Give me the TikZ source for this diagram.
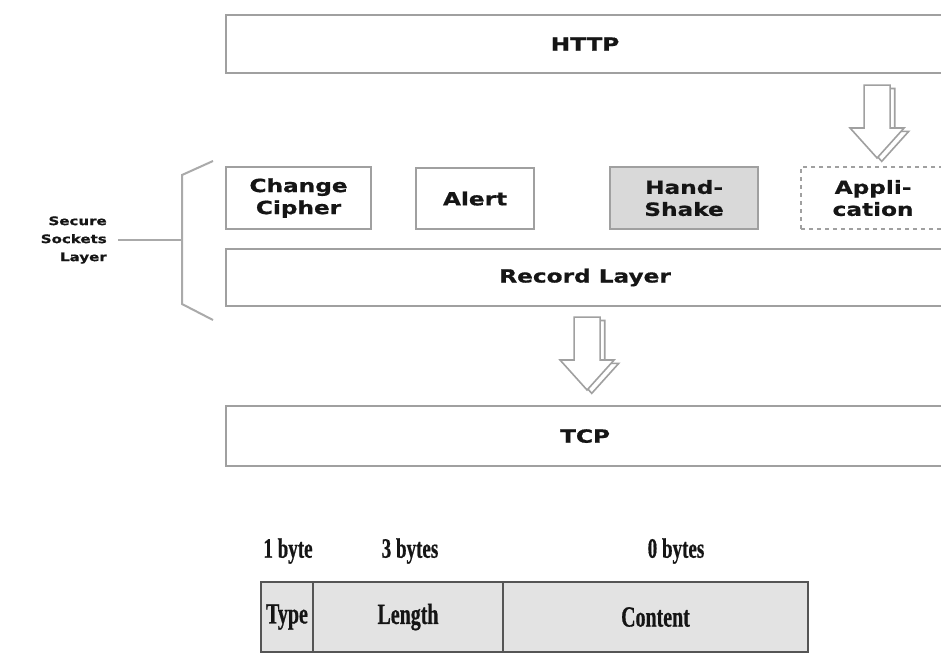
\documentclass[tikz,border=0pt]{standalone}
\usepackage{fontspec}
\usetikzlibrary{calc}
\newfontfamily\layerfont[FakeStretch=1.28,FakeBold=0.8]{DejaVu Sans}
\newfontfamily\fieldfont[FakeStretch=0.68,FakeBold=0.6]{Liberation Serif}
\definecolor{boxgray}{HTML}{A0A0A0}
\definecolor{txt}{HTML}{151515}
\definecolor{hsfill}{HTML}{D9D9D9}
\definecolor{cellfill}{HTML}{E3E3E3}
\definecolor{celledge}{HTML}{555555}

% hollow block arrow from #1 (top of shaft) down to #2 (tip), with a offset back contour
\newcommand\hollowarrow[2]{%
  \foreach \dx/\dy in {3.5pt/-2.5pt, 0pt/0pt}{
    \draw[blockarrow] let \p1=(#1), \p2=(#2) in
      (\x1-9.75pt+\dx,\y1+\dy) -- (\x1+9.75pt+\dx,\y1+\dy) -- (\x1+9.75pt+\dx,\y2+22.5pt+\dy)
      -- (\x1+20.25pt+\dx,\y2+22.5pt+\dy) -- (\x1+\dx,\y2+\dy) -- (\x1-20.25pt+\dx,\y2+22.5pt+\dy)
      -- (\x1-9.75pt+\dx,\y2+22.5pt+\dy) -- cycle;
  }%
}

\begin{document}
\begin{tikzpicture}[x=0.75pt,y=-0.75pt,
  layerbox/.style={draw=boxgray, line width=1.6pt, fill=white, inner sep=0pt,
    anchor=north west, align=center, text=txt,
    font=\layerfont\bfseries\fontsize{13.6pt}{16.5pt}\selectfont},
  cell/.style={draw=celledge, fill=cellfill, line width=1.5pt, inner sep=0pt,
    anchor=north west, minimum height=52.5pt, text=txt,
    font=\fieldfont\bfseries\fontsize{22pt}{24pt}\selectfont},
  sizelabel/.style={text=txt, inner sep=0pt,
    font=\fieldfont\bfseries\fontsize{21pt}{24pt}\selectfont},
  blockarrow/.style={draw=boxgray, line width=1.2pt, fill=white, line join=miter},
  bracket/.style={draw=boxgray!90, line width=1.5pt}]
\clip (0,0) rectangle (941,654);
\fill[white] (0,0) rectangle (941,654);

% protocol layers
\node[layerbox, minimum width=538.5pt, minimum height=43.5pt] (http) at (225,14) {HTTP};
\node[layerbox, minimum width=108.75pt, minimum height=46.5pt] (cc) at (225,166) {Change\\Cipher};
\node[layerbox, minimum width=88.5pt, minimum height=45.75pt] (alert) at (415,167) {Alert};
\node[layerbox, fill=hsfill, minimum width=111pt, minimum height=46.5pt] (hs) at (609,166) {Hand-\\Shake};
\node[layerbox, dashed, minimum width=108pt, minimum height=46.5pt] (app) at (800,166) {Appli-\\cation};
\node[layerbox, minimum width=538.5pt, minimum height=42.75pt] (record) at (225,248) {Record Layer};
\node[layerbox, minimum width=538.5pt, minimum height=45pt] (tcp) at (225,405) {TCP};

% data flow arrows
\coordinate (a1s) at ($(app.north |- http.south)+(4,11)$);
\coordinate (a1t) at ($(app.north)+(4,-8)$);
\hollowarrow{a1s}{a1t}
\coordinate (a2s) at ($(record.south)+(2,10)$);
\coordinate (a2t) at ($(tcp.north)+(2,-15)$);
\hollowarrow{a2s}{a2t}

% SSL brace and label
\coordinate (bt) at (213,161);
\coordinate (bmid) at (182,240);
\draw[bracket] (bt) -- (182,175) -- (182,304) -- (213,320);
\node[anchor=east, align=right, text=txt, inner sep=0pt,
  font=\layerfont\bfseries\fontsize{8.8pt}{13.5pt}\selectfont] (ssl) at (107,240)
  {Secure\\Sockets\\Layer};
\draw[bracket] ($(ssl.east)+(11,0)$) -- (bmid);

% record header fields
\node[cell, minimum width=39pt] (type) at (260,581) {Type};
\node[cell, minimum width=142.5pt] (len) at (312,581) {Length};
\node[cell, minimum width=228.75pt] (content) at (502,581) {Content};
\node[sizelabel] (l1) at (288,551) {1 byte};
\node[sizelabel] (l3) at (410,551) {3 bytes};
\node[sizelabel] (l0) at (676,551) {0 bytes};
\end{tikzpicture}
\end{document}
